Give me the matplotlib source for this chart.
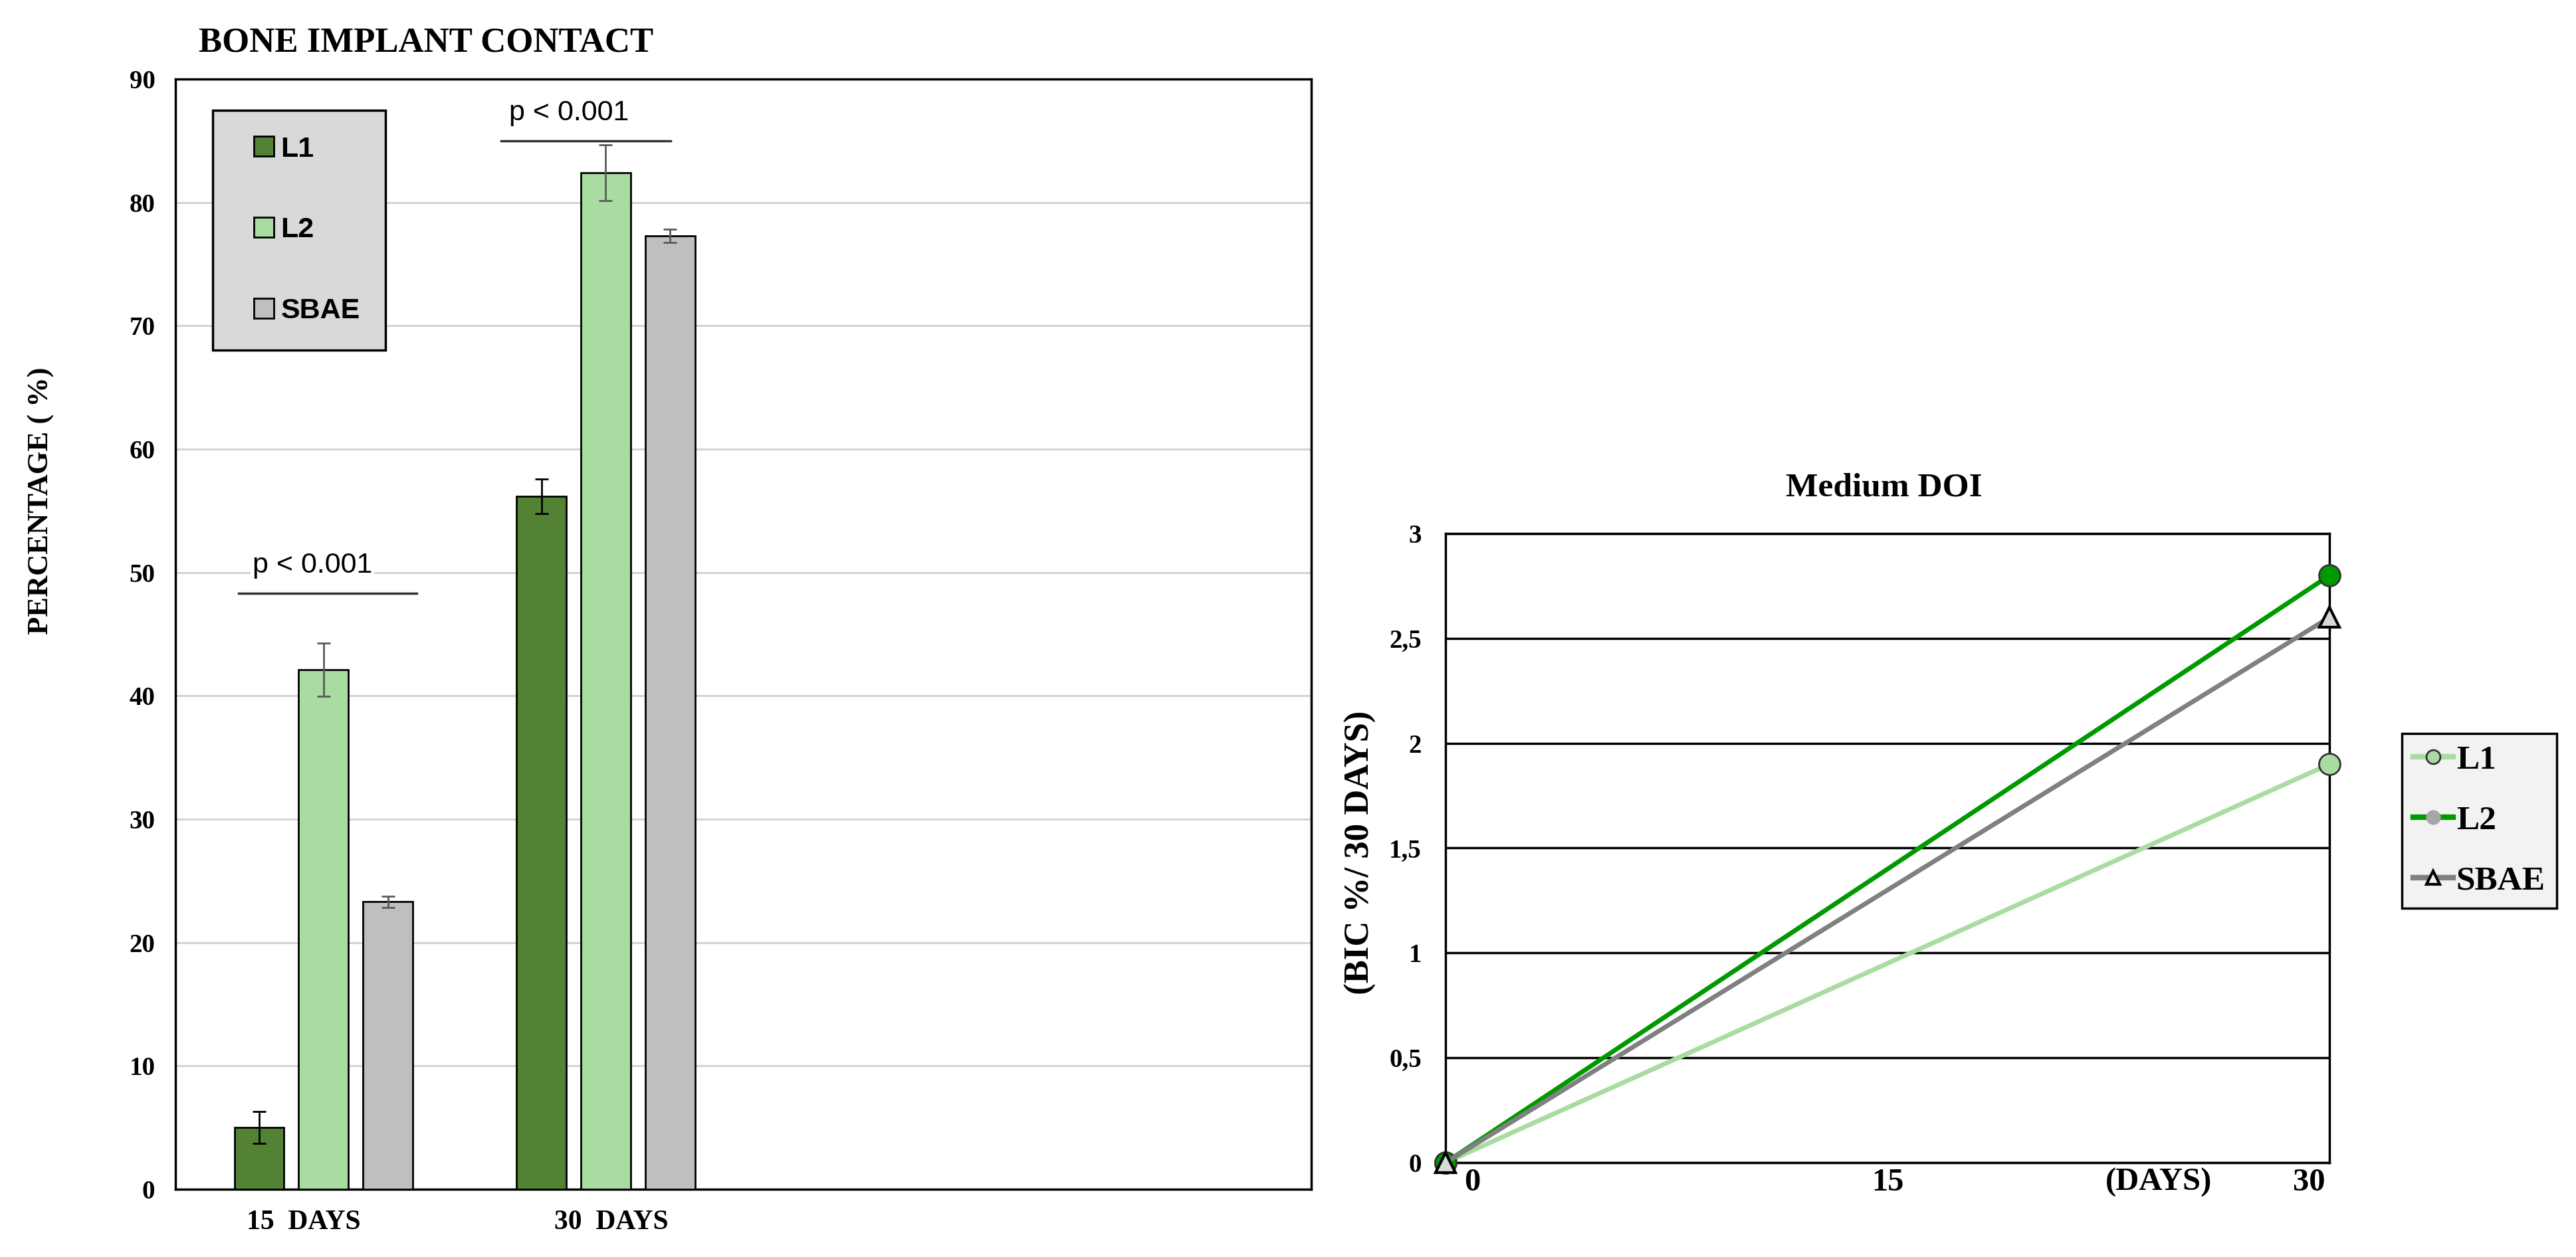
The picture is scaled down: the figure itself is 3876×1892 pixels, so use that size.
import numpy as np
import matplotlib.pyplot as plt
from matplotlib.lines import Line2D

# ---- data: bone implant contact (%) ----
groups = ["15  DAYS", "30  DAYS"]
series = ["L1", "L2", "SBAE"]
bic_l1 = [5.0, 56.2]
bic_l2 = [42.1, 82.4]
bic_sbae = [23.3, 77.3]
err_l1 = [1.3, 1.4]
err_l2 = [2.15, 2.25]
err_sbae = [0.45, 0.55]
p_text = ["p < 0.001", "p < 0.001"]
p_line_y = [48.3, 85.0]

# ---- data: medium DOI ----
days = [0, 30]
doi_l1 = [0, 1.9]
doi_l2 = [0, 2.8]
doi_sbae = [0, 2.6]

bar_colors = ["#548235", "#A9DCA0", "#BFBFBF"]
err_colors = ["#000000", "#5A5A5A", "#5A5A5A"]
line_colors = ["#A9DCA0", "#009900", "#808080"]

SERIF = "Liberation Serif"
SANS = "Liberation Sans"

fig = plt.figure(figsize=(38.76, 18.92), dpi=100)

# ================= left: bar chart =================
ax = fig.add_axes([0.0681, 0.0539, 0.4409, 0.8832])
x = np.arange(len(groups))
w = 0.176
off = 0.228
vals = [bic_l1, bic_l2, bic_sbae]
errs = [err_l1, err_l2, err_sbae]
for i in range(3):
    ax.bar(x + (i - 1) * off, vals[i], width=w, color=bar_colors[i],
           edgecolor="black", linewidth=2, zorder=3, label=series[i])
    ax.errorbar(x + (i - 1) * off, vals[i], yerr=errs[i], fmt="none",
                ecolor=err_colors[i], elinewidth=2, capsize=7, capthick=2, zorder=4)

ax.set_xlim(-0.525, 3.50)
ax.set_ylim(0, 90)
ax.set_yticks(np.arange(0, 91, 10))
ax.yaxis.grid(True, color="#D0D0D0", linewidth=2, zorder=0)
ax.set_axisbelow(True)
ax.tick_params(axis="both", length=0)
ax.tick_params(axis="y", pad=22)
ax.tick_params(axis="x", pad=22)
for lab in ax.get_yticklabels():
    lab.set_fontfamily(SERIF)
    lab.set_fontweight("bold")
    lab.set_fontsize(28)
ax.set_xticks([x[0] - 0.07, x[1] + 0.02])
ax.set_xticklabels(groups, fontfamily=SERIF, fontweight="bold", fontsize=30)
for s in ax.spines.values():
    s.set_color("black")
    s.set_linewidth(2.5)

# significance bars
p_span = [(-0.30, 0.33), (0.63, 1.23)]
p_txt_x = [-0.04, 0.87]
for k in range(2):
    ax.plot(p_span[k], [p_line_y[k], p_line_y[k]], color="#333333", linewidth=2.5, zorder=5)
    ax.text(p_txt_x[k], p_line_y[k] + 1.2, p_text[k], ha="center", va="bottom",
            fontfamily=SANS, fontsize=31, zorder=5,
            bbox=dict(facecolor="white", edgecolor="none", pad=2) if k == 0 else None)

handles = [Line2D([], [], linestyle="none", marker="s", markersize=21,
                  markerfacecolor=c, markeredgecolor="black", markeredgewidth=2)
           for c in bar_colors]
leg = ax.legend(handles, series, loc="upper left", bbox_to_anchor=(0.033, 0.972),
                borderaxespad=0, prop=dict(family=SANS, weight="bold", size=31),
                handlelength=1.77, handletextpad=-0.3,
                labelspacing=1.9, borderpad=0.9, fancybox=False, framealpha=1)
leg.get_frame().set_facecolor("#D9D9D9")
leg.get_frame().set_edgecolor("black")
leg.get_frame().set_linewidth(2.5)

fig.text(0.1655, 0.966, "BONE IMPLANT CONTACT", ha="center", va="center",
         fontfamily=SERIF, fontweight="bold", fontsize=38)
fig.text(0.016, 0.6015, "PERCENTAGE ( %)", ha="center", va="center", rotation=90,
         fontfamily=SERIF, fontweight="bold", fontsize=32)

# ================= right: line chart =================
ax2 = fig.add_axes([0.5612, 0.0751, 0.3431, 0.5005])
ax2.plot(days, doi_l1, color=line_colors[0], linewidth=5, marker="o", markersize=23,
         markerfacecolor="#A9DCA0", markeredgecolor="#333333", markeredgewidth=2,
         clip_on=False, zorder=3)
ax2.plot(days, doi_l2, color=line_colors[1], linewidth=5, marker="o", markersize=23,
         markerfacecolor="#009900", markeredgecolor="#333333", markeredgewidth=2,
         clip_on=False, zorder=4)
ax2.plot(days, doi_sbae, color=line_colors[2], linewidth=5, marker="^", markersize=22,
         markerfacecolor="#D9D9D9", markeredgecolor="black", markeredgewidth=3,
         clip_on=False, zorder=5)
ax2.set_xlim(0, 30)
ax2.set_ylim(0, 3)
ax2.set_yticks(np.arange(0, 3.01, 0.5))
ax2.set_yticklabels(["0", "0,5", "1", "1,5", "2", "2,5", "3"],
                    fontfamily=SERIF, fontweight="bold", fontsize=28)
ax2.yaxis.grid(True, color="black", linewidth=2.5, zorder=0)
ax2.set_xticks([0.9, 15, 24.2, 29.3])
ax2.set_xticklabels(["0", "15", "(DAYS)", "30"], fontfamily=SERIF,
                    fontweight="bold", fontsize=35)
ax2.tick_params(axis="both", length=0)
ax2.tick_params(axis="y", pad=26)
ax2.tick_params(axis="x", pad=6)
for s in ax2.spines.values():
    s.set_color("black")
    s.set_linewidth(2.5)

fig.text(0.7315, 0.612, "Medium DOI", ha="center", va="center",
         fontfamily=SERIF, fontweight="bold", fontsize=37)
fig.text(0.528, 0.322, "(BIC %/ 30 DAYS)", ha="center", va="center", rotation=90,
         fontfamily=SERIF, fontweight="bold", fontsize=38)

h2 = [
    Line2D([], [], color=line_colors[0], linewidth=6, marker="o", markersize=15,
           markerfacecolor="#A9DCA0", markeredgecolor="#333333", markeredgewidth=2),
    Line2D([], [], color=line_colors[1], linewidth=6, marker="o", markersize=15,
           markerfacecolor="#A6A6A6", markeredgecolor="#A6A6A6"),
    Line2D([], [], color=line_colors[2], linewidth=6, marker="^", markersize=15,
           markerfacecolor="#F2F2F2", markeredgecolor="black", markeredgewidth=3),
]
leg2 = fig.legend(h2, series, loc="center left", bbox_to_anchor=(0.9324, 0.347),
                  borderaxespad=0, prop=dict(family=SERIF, weight="bold", size=37),
                  handlelength=1.15, handletextpad=0.1, labelspacing=0.85,
                  borderpad=0.34, fancybox=False, framealpha=1)
leg2.get_frame().set_facecolor("#F2F2F2")
leg2.get_frame().set_edgecolor("black")
leg2.get_frame().set_linewidth(2.5)

fig.savefig("out.png", dpi=100)
